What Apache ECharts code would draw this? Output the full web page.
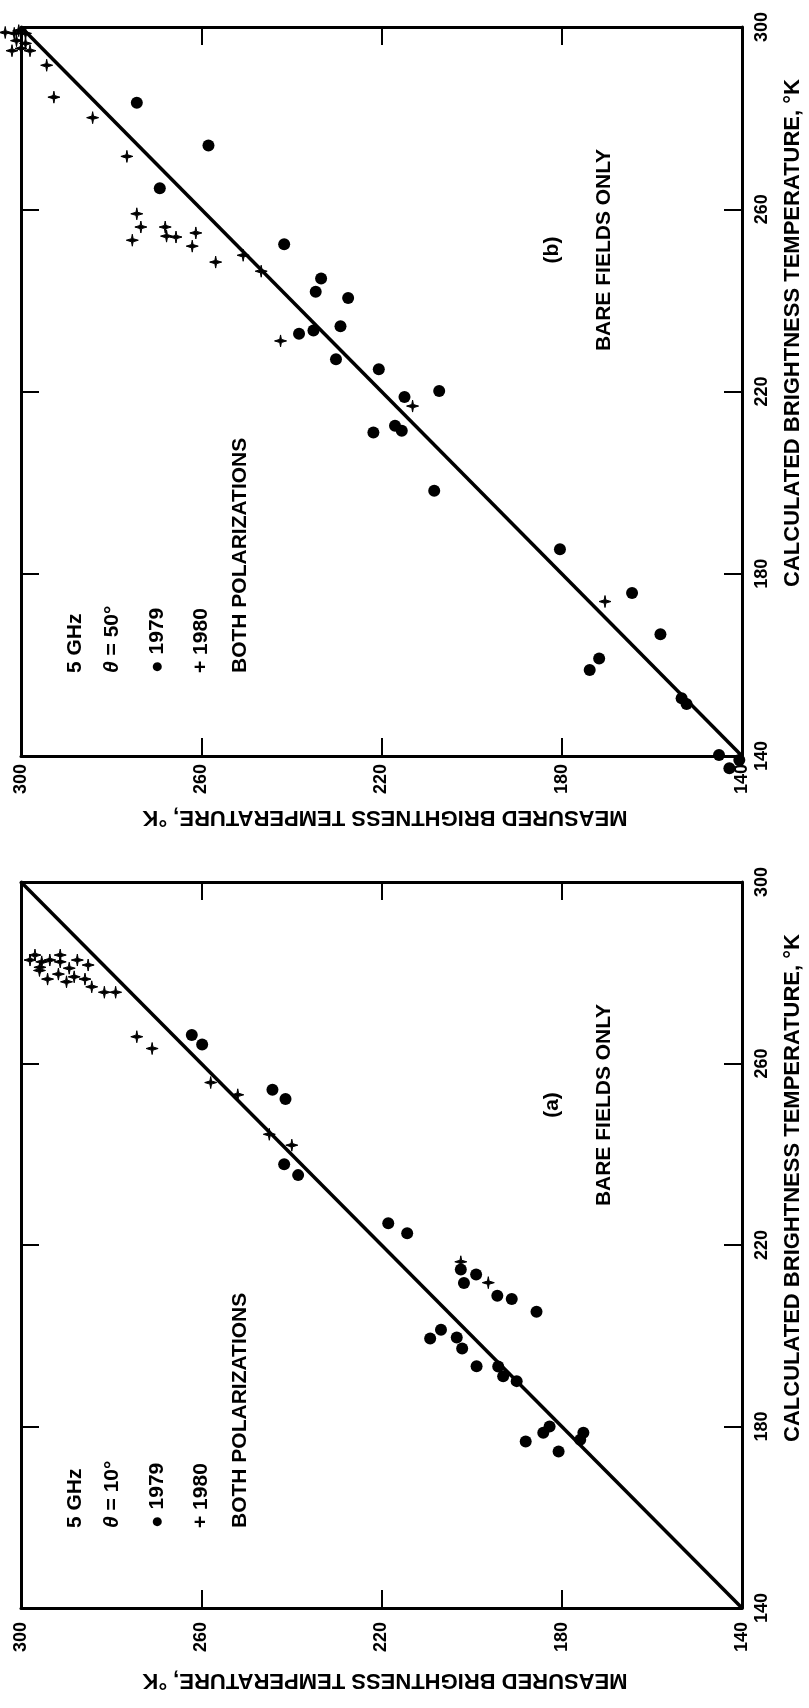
<!DOCTYPE html>
<html>
<head>
<meta charset="utf-8">
<title>Brightness temperature, 5 GHz</title>
<script src="https://cdn.jsdelivr.net/npm/echarts/dist/echarts.min.js"></script>
<style>
  body { margin: 0; background: #fff; }
  #chart { width: 809px; height: 1708px; }
</style>
</head>
<body>
<div id="chart"></div>
<script>
// axis ticks (both axes, both panels), degrees K
const TICKS = [140, 180, 220, 260, 300];
const DIAGONAL = [[140, 140], [300, 300]];

// points are [measured, calculated]
// (a) theta = 10 deg
const dots10 = [
  [262.1, 266.3], [259.8, 264.2], [244.2, 254.2], [241.3, 252.2], [241.6, 237.8], [238.5, 235.4],
  [218.5, 224.8], [214.3, 222.6], [202.4, 214.6], [199.0, 213.5], [201.7, 211.6], [194.3, 208.8],
  [191.1, 208.1], [185.6, 205.3], [206.8, 201.3], [209.2, 199.4], [203.3, 199.6], [202.1, 197.2],
  [198.9, 193.3], [194.1, 193.2], [193.0, 191.1], [190.0, 190.0], [188.0, 176.7], [184.1, 178.6],
  [182.7, 180.0], [180.7, 174.5], [175.9, 177.1], [175.2, 178.6]
];
const crosses10 = [
  [298.0, 282.8], [296.9, 283.9], [295.4, 282.4], [295.8, 281.2], [295.9, 280.5], [293.6, 282.8],
  [291.3, 283.9], [291.3, 282.4], [287.5, 282.8], [285.1, 281.7], [289.3, 281.0], [291.7, 279.7],
  [294.1, 278.6], [288.2, 279.1], [289.9, 278.0], [285.8, 278.6], [284.3, 276.9], [281.5, 275.7],
  [279.0, 275.7], [274.3, 265.9], [270.9, 263.3], [257.9, 255.8], [251.9, 253.1], [244.9, 244.4],
  [239.9, 242.0], [202.4, 216.3], [196.3, 211.7]
];

// (b) theta = 50 deg
const dots50 = [
  [274.3, 283.4], [258.4, 274.0], [269.2, 264.6], [241.6, 252.3], [233.4, 244.8], [234.6, 241.9],
  [227.4, 240.5], [229.1, 234.3], [235.1, 233.4], [238.3, 232.7], [230.1, 227.1], [220.6, 224.9],
  [214.9, 218.8], [207.2, 220.1], [221.8, 211.0], [217.0, 212.5], [215.5, 211.4], [208.3, 198.2],
  [180.4, 185.4], [164.4, 175.8], [158.1, 166.7], [171.7, 161.4], [173.8, 158.9], [153.4, 152.7],
  [152.3, 151.4], [145.1, 140.2], [142.8, 137.3], [140.6, 139.1]
];
const crosses50 = [
  [303.5, 298.8], [301.5, 298.6], [300.5, 299.2], [299.0, 298.6], [302.0, 294.8], [300.0, 295.3],
  [298.0, 294.8], [301.0, 297.0], [299.0, 296.4], [294.3, 291.6], [292.7, 284.6], [284.1, 280.1],
  [276.5, 271.6], [274.3, 259.0], [273.4, 256.1], [275.3, 253.2], [268.0, 256.1], [267.7, 254.1],
  [265.6, 253.9], [261.2, 254.8], [262.0, 251.9], [256.8, 248.4], [250.7, 249.9], [246.7, 246.4],
  [242.4, 231.1], [213.1, 216.8], [170.4, 173.9]
];

const legendA = ['5 GHz', '{i|θ} = 10°', '● 1979', '+ 1980', 'BOTH POLARIZATIONS'];
const legendB = ['5 GHz', '{i|θ} = 50°', '● 1979', '+ 1980', 'BOTH POLARIZATIONS'];

const FONT = '"Liberation Sans", Arial, sans-serif';
// plus sign with slightly pointed arms, like the printed crosses
const PLUS = 'path://M5,0L5.7,3.7L10,5L5.7,6.3L5,10L4.3,6.3L0,5L4.3,3.7Z';

function xAxis(grid, pos, margin) {
  return {
    type: 'value', gridIndex: grid, position: pos, inverse: true,
    min: TICKS[0], max: TICKS[TICKS.length - 1], interval: TICKS[1] - TICKS[0],
    axisLine: { show: true, onZero: false, lineStyle: { color: '#000', width: 3 } },
    axisTick: { show: true, inside: true, length: 18, lineStyle: { color: '#000', width: 2 } },
    axisLabel: { show: pos === 'bottom', rotate: 90, margin: margin, color: '#000',
      fontSize: 18, fontWeight: 'bold', fontFamily: FONT },
    splitLine: { show: false }
  };
}
function yAxis(grid, pos) {
  return {
    type: 'value', gridIndex: grid, position: pos,
    min: TICKS[0], max: TICKS[TICKS.length - 1], interval: TICKS[1] - TICKS[0],
    axisLine: { show: true, onZero: false, lineStyle: { color: '#000', width: 3 } },
    axisTick: { show: true, inside: true, length: 18, lineStyle: { color: '#000', width: 2 } },
    axisLabel: { show: pos === 'right', rotate: 90, margin: 11, color: '#000',
      fontSize: 18, fontWeight: 'bold', fontFamily: FONT },
    splitLine: { show: false }
  };
}
function panel(xi, yi, dots, crosses) {
  return [
    { type: 'line', xAxisIndex: xi, yAxisIndex: yi, data: DIAGONAL, symbol: 'none',
      lineStyle: { color: '#000', width: 3.5 }, silent: true, z: 2 },
    { type: 'scatter', name: '1979', xAxisIndex: xi, yAxisIndex: yi, data: dots,
      symbol: 'circle', symbolSize: 12, itemStyle: { color: '#000', opacity: 1 }, clip: false, z: 3 },
    { type: 'scatter', name: '1980', xAxisIndex: xi, yAxisIndex: yi, data: crosses,
      symbol: PLUS, symbolSize: 12,
      itemStyle: { color: '#000', opacity: 1, borderColor: '#000', borderWidth: 1 }, clip: false, z: 3 }
  ];
}
function txt(x, y, text, rot, align, size) {
  return {
    type: 'text', x: x, y: y, rotation: rot,
    style: {
      text: text, fill: '#000', font: 'bold ' + (size || 21) + 'px ' + FONT,
      textAlign: align || 'center', textVerticalAlign: 'middle',
      rich: { i: { fontStyle: 'italic', fontWeight: 'bold', fontSize: size || 21, fontFamily: FONT } }
    }
  };
}

const legendX = [75, 112, 157, 201, 240];
const graphics = [];
[[0, legendB, '(b)'], [855, legendA, '(a)']].forEach(function (p) {
  const dy = p[0];
  p[1].forEach(function (t, i) {
    graphics.push(txt(legendX[i], 673 + dy, t, Math.PI / 2, 'left'));
  });
  graphics.push(txt(552, 250 + dy, p[2], Math.PI / 2));
  graphics.push(txt(604, 250 + dy, 'BARE FIELDS ONLY', Math.PI / 2));
  graphics.push(txt(793, 333 + dy, 'CALCULATED BRIGHTNESS TEMPERATURE, °K', Math.PI / 2, 'center', 22));
});
graphics.push(txt(385, 817, 'MEASURED BRIGHTNESS TEMPERATURE, °K', Math.PI, 'center', 22));
graphics.push(txt(385, 1680, 'MEASURED BRIGHTNESS TEMPERATURE, °K', Math.PI, 'center', 22));

const chart = echarts.init(document.getElementById('chart'));
chart.setOption({
  backgroundColor: '#fff',
  animation: false,
  grid: [
    { left: 21, top: 27, right: 67, bottom: 952 },
    { left: 21, top: 882, right: 67, bottom: 100 }
  ],
  xAxis: [xAxis(0, 'bottom', 8), xAxis(0, 'top'), xAxis(1, 'bottom', 14), xAxis(1, 'top')],
  yAxis: [yAxis(0, 'right'), yAxis(0, 'left'), yAxis(1, 'right'), yAxis(1, 'left')],
  series: panel(0, 0, dots50, crosses50).concat(panel(2, 2, dots10, crosses10)),
  graphic: graphics
});
</script>
</body>
</html>
